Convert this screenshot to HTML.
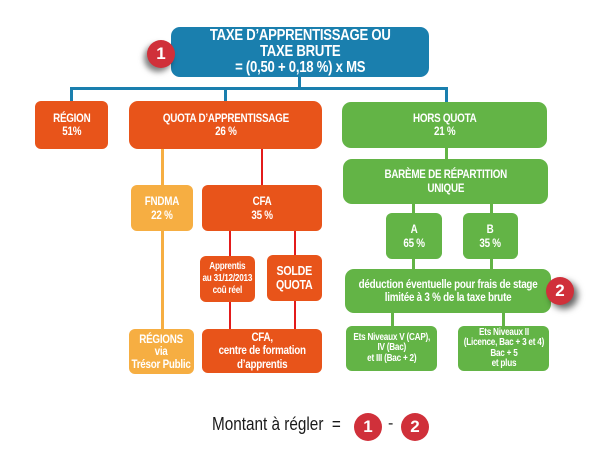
<!DOCTYPE html>
<html><head><meta charset="utf-8"><style>
body{margin:0;width:600px;height:470px;background:#fff;position:relative;overflow:hidden;font-family:"Liberation Sans",sans-serif;}
.b{position:absolute;display:flex;align-items:center;justify-content:center;text-align:center;color:#fff;font-weight:bold;border-radius:6px;box-sizing:border-box;line-height:1.2;letter-spacing:-0.3px;white-space:nowrap;}
.b span{display:inline-block;transform:scaleX(.82);}
.o{background:#e8541a;}.g{background:#63b446;}.y{background:#f6ae42;}
.l{position:absolute;}
.bl{background:#1a7fae}.gl{background:#63b446}.yl{background:#f6ae42}.rl{background:#e31b1b}
.c{position:absolute;width:28px;height:28px;border-radius:50%;background:#d0303a;color:#fff;font-weight:bold;font-size:17px;font-family:"Liberation Sans",sans-serif;display:flex;align-items:center;justify-content:center;}
</style></head><body>
<div class="l bl" style="left:298px;top:77px;width:3px;height:12px"></div>
<div class="l bl" style="left:70px;top:87px;width:378px;height:3px"></div>
<div class="l bl" style="left:70px;top:87px;width:3px;height:15px"></div>
<div class="l bl" style="left:224px;top:87px;width:3px;height:15px"></div>
<div class="l bl" style="left:445px;top:87px;width:3px;height:15px"></div>
<div class="l yl" style="left:161px;top:148px;width:3px;height:182px"></div>
<div class="l rl" style="left:261px;top:148px;width:2px;height:38px"></div>
<div class="l rl" style="left:229px;top:230px;width:2px;height:100px"></div>
<div class="l rl" style="left:294px;top:230px;width:2px;height:100px"></div>
<div class="l gl" style="left:445px;top:147px;width:3px;height:13px"></div>
<div class="l gl" style="left:412px;top:203px;width:3px;height:11px"></div>
<div class="l gl" style="left:490px;top:203px;width:3px;height:11px"></div>
<div class="l gl" style="left:412px;top:258px;width:3px;height:12px"></div>
<div class="l gl" style="left:490px;top:258px;width:3px;height:12px"></div>
<div class="l gl" style="left:391px;top:312px;width:3px;height:15px"></div>
<div class="l gl" style="left:502px;top:312px;width:3px;height:15px"></div>

<div class="b" style="left:171px;top:27px;width:258px;height:50px;background:#1a7fae;font-size:16px;line-height:1;border-radius:9px"><span>TAXE D’APPRENTISSAGE OU<br>TAXE BRUTE<br>= (0,50 + 0,18 %) x MS</span></div>
<div class="c" style="left:147px;top:40px;box-shadow:-3px 4px 6px rgba(0,0,0,.5)">1</div>

<div class="b o" style="left:35px;top:101px;width:73px;height:48px;font-size:12px;line-height:1.1"><span>RÉGION<br>51%</span></div>
<div class="b o" style="left:129px;top:101px;width:193px;height:48px;font-size:12px;line-height:1.1;border-radius:9px"><span>QUOTA D’APPRENTISSAGE<br>26 %</span></div>
<div class="b g" style="left:342px;top:102px;width:205px;height:46px;font-size:12px;line-height:1.1;border-radius:9px"><span>HORS QUOTA<br>21 %</span></div>
<div class="b g" style="left:343px;top:159px;width:205px;height:45px;font-size:12px;line-height:1.1;border-radius:9px"><span>BARÈME DE RÉPARTITION<br>UNIQUE</span></div>
<div class="b y" style="left:131px;top:185px;width:62px;height:46px;font-size:12px;line-height:1.2"><span>FNDMA<br>22 %</span></div>
<div class="b o" style="left:202px;top:185px;width:120px;height:46px;font-size:12px;line-height:1.2"><span>CFA<br>35 %</span></div>
<div class="b g" style="left:386px;top:213px;width:56px;height:46px;font-size:12px;line-height:1.2"><span>A<br>65 %</span></div>
<div class="b g" style="left:463px;top:213px;width:55px;height:46px;font-size:12px;line-height:1.2"><span>B<br>35 %</span></div>
<div class="b o" style="left:200px;top:256px;width:55px;height:46px;font-size:10px;line-height:1.2"><span>Apprentis<br>au 31/12/2013<br>coû réel</span></div>
<div class="b o" style="left:267px;top:255px;width:55px;height:46px;font-size:13px;line-height:1.05"><span>SOLDE<br>QUOTA</span></div>
<div class="b g" style="left:345px;top:269px;width:206px;height:44px;font-size:12px;line-height:1.1;border-radius:9px"><span>déduction éventuelle pour frais de stage<br>limitée à 3 % de la taxe brute</span></div>
<div class="c" style="left:546px;top:277px;box-shadow:4px 4px 7px rgba(0,0,0,.6)">2</div>
<div class="b y" style="left:129px;top:329px;width:65px;height:45px;font-size:12px;line-height:1.05"><span>RÉGIONS<br>via<br>Trésor Public</span></div>
<div class="b o" style="left:202px;top:329px;width:120px;height:44px;font-size:12px;line-height:1.1"><span>CFA,<br>centre de formation<br>d’apprentis</span></div>
<div class="b g" style="left:346px;top:326px;width:91px;height:45px;font-size:10px;line-height:1.05"><span>Ets Niveaux V (CAP),<br>IV (Bac)<br>et III (Bac + 2)</span></div>
<div class="b g" style="left:458px;top:326px;width:91px;height:45px;font-size:10px;line-height:1.05"><span>Ets Niveaux II<br>(Licence, Bac + 3 et 4)<br>Bac + 5<br>et plus</span></div>

<div style="position:absolute;left:212px;top:414px;width:155px;font-size:18px;color:#1a1a1a;transform:scaleX(.85);transform-origin:left;white-space:nowrap">Montant à régler&nbsp;&nbsp;=</div>
<div class="c" style="left:354px;top:413px">1</div>
<div style="position:absolute;left:388px;top:415px;font-size:16px;color:#1a1a1a">-</div>
<div class="c" style="left:401px;top:413px">2</div>
</body></html>
